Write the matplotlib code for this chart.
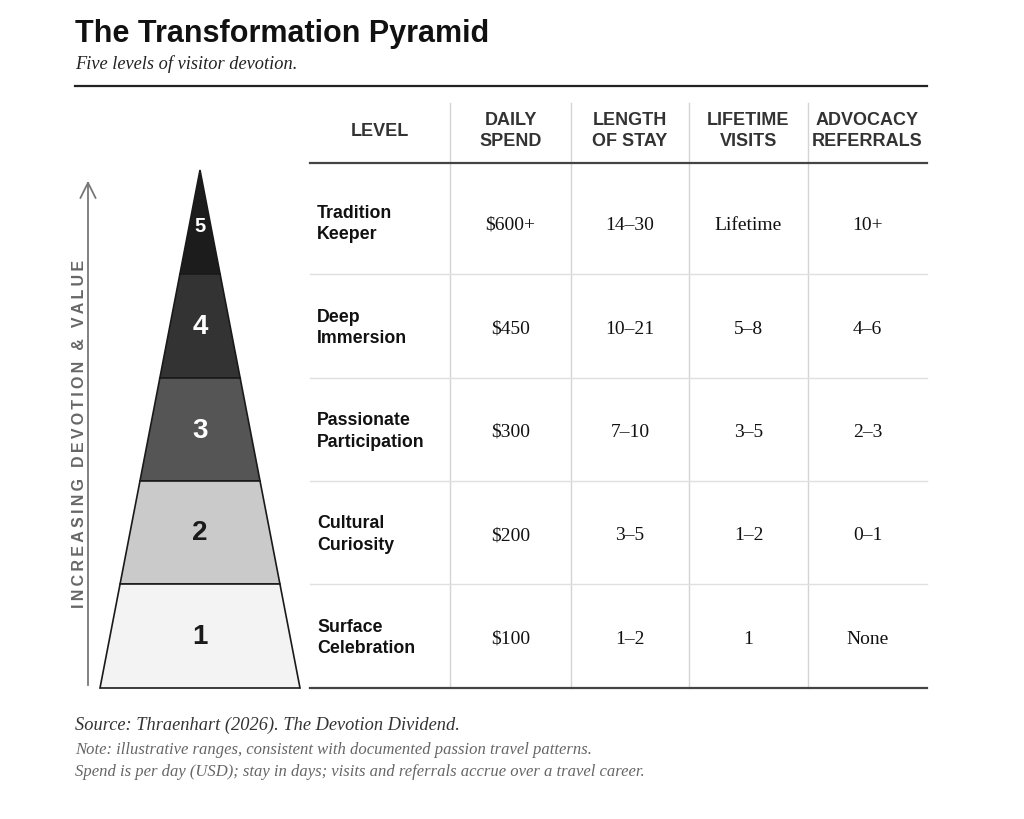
import matplotlib.pyplot as plt
from matplotlib.patches import Polygon

# ----------------------------
# data
# ----------------------------
levels = [5, 4, 3, 2, 1]
level_names = ["Tradition\nKeeper", "Deep\nImmersion", "Passionate\nParticipation",
               "Cultural\nCuriosity", "Surface\nCelebration"]
daily_spend = ["$600+", "$450", "$300", "$200", "$100"]
length_of_stay = ["14–30", "10–21", "7–10", "3–5", "1–2"]
lifetime_visits = ["Lifetime", "5–8", "3–5", "1–2", "1"]
advocacy_referrals = ["10+", "4–6", "2–3", "0–1", "None"]
headers = ["LEVEL", "DAILY\nSPEND", "LENGTH\nOF STAY", "LIFETIME\nVISITS", "ADVOCACY\nREFERRALS"]
tier_colors = ["#1c1c1c", "#333333", "#555555", "#cacaca", "#f3f3f3"]
num_colors = ["white", "white", "white", "#1a1a1a", "#1a1a1a"]

SANS = "Liberation Sans"
SERIF = "Liberation Serif"

fig = plt.figure(figsize=(10.24, 8.19), dpi=100)
ax = fig.add_axes([0, 0, 1, 1])
ax.set_xlim(0, 1024)
ax.set_ylim(819, 0)
ax.axis("off")

# title block
ax.text(75, 42, "The Transformation Pyramid", fontsize=22, fontweight="bold",
        family=SANS, color="#111111", va="baseline")
ax.text(75, 69, "Five levels of visitor devotion.", fontsize=13.2, style="italic",
        family=SERIF, color="#222222", va="baseline")
ax.plot([75, 927], [86, 86], color="#222222", lw=1.6)

# table geometry
col_edges = [310, 450, 571, 689, 808, 927]
row_edges = [163, 274, 378, 481, 584, 688]
top = 103
apex_y = 170
base_y = row_edges[-1]
cx, half_base = 200, 100

# column separators
for x in col_edges[1:-1]:
    ax.plot([x, x], [top, base_y], color="#d4d4d4", lw=1)

# header
for i, h in enumerate(headers):
    xc = (col_edges[i] + col_edges[i + 1]) / 2
    ax.text(xc, 131, h, fontsize=13, fontweight="bold", family=SANS,
            color="#333333", ha="center", va="center", linespacing=1.35)
ax.plot([col_edges[0], col_edges[-1]], [row_edges[0], row_edges[0]], color="#444444", lw=1.6)

# rows
for r in range(len(levels)):
    y0, y1 = row_edges[r], row_edges[r + 1]
    ym = (y0 + y1) / 2 + 2 if r > 0 else y1 - 50
    ax.text(317, ym, level_names[r], fontsize=12.8, fontweight="bold", family=SANS,
            color="#111111", ha="left", va="center", linespacing=1.35)
    vals = [daily_spend[r], length_of_stay[r], lifetime_visits[r], advocacy_referrals[r]]
    for c, v in enumerate(vals):
        xc = (col_edges[c + 1] + col_edges[c + 2]) / 2
        ax.text(xc, ym + 1, v, fontsize=14, family=SERIF, color="#111111",
                ha="center", va="center")
    if r < len(levels) - 1:
        ax.plot([col_edges[0], col_edges[-1]], [y1, y1], color="#e0e0e0", lw=1)
ax.plot([col_edges[0], col_edges[-1]], [base_y, base_y], color="#444444", lw=1.6)

# pyramid
def half_w(y):
    return half_base * (y - apex_y) / (base_y - apex_y)

tier_edges = [apex_y] + row_edges[1:]
for i, lv in enumerate(levels):
    ya, yb = tier_edges[i], tier_edges[i + 1]
    wa, wb = half_w(ya), half_w(yb)
    poly = Polygon([(cx - wa, ya), (cx + wa, ya), (cx + wb, yb), (cx - wb, yb)],
                   closed=True, facecolor=tier_colors[i], edgecolor="#1a1a1a", lw=1.2)
    ax.add_patch(poly)
    ym = (ya + yb) / 2 + (5 if i == 0 else 1)
    ax.text(cx, ym, str(lv), fontsize=14.5 if i == 0 else 20, fontweight="bold",
            family=SANS, color=num_colors[i], ha="center", va="center")

# side arrow
ax.annotate("", xy=(88, 178), xytext=(88, base_y),
            arrowprops=dict(arrowstyle="->,head_length=1.1,head_width=0.55",
                            color="#777777", lw=1.3))
ax.text(80, 434, "\u2009".join("INCREASING DEVOTION & VALUE"), rotation=90,
        fontsize=11.5, fontweight="bold", family=[SANS, "DejaVu Sans"], color="#666666",
        ha="center", va="center")

# footer
ax.text(75, 730, "Source: Thraenhart (2026). The Devotion Dividend.", fontsize=13.2,
        style="italic", family=SERIF, color="#333333", va="baseline")
ax.text(75, 754, "Note: illustrative ranges, consistent with documented passion travel patterns.",
        fontsize=12, style="italic", family=SERIF, color="#666666", va="baseline")
ax.text(75, 776, "Spend is per day (USD); stay in days; visits and referrals accrue over a travel career.",
        fontsize=12, style="italic", family=SERIF, color="#666666", va="baseline")

fig.savefig("out.png", dpi=100, facecolor="white")
